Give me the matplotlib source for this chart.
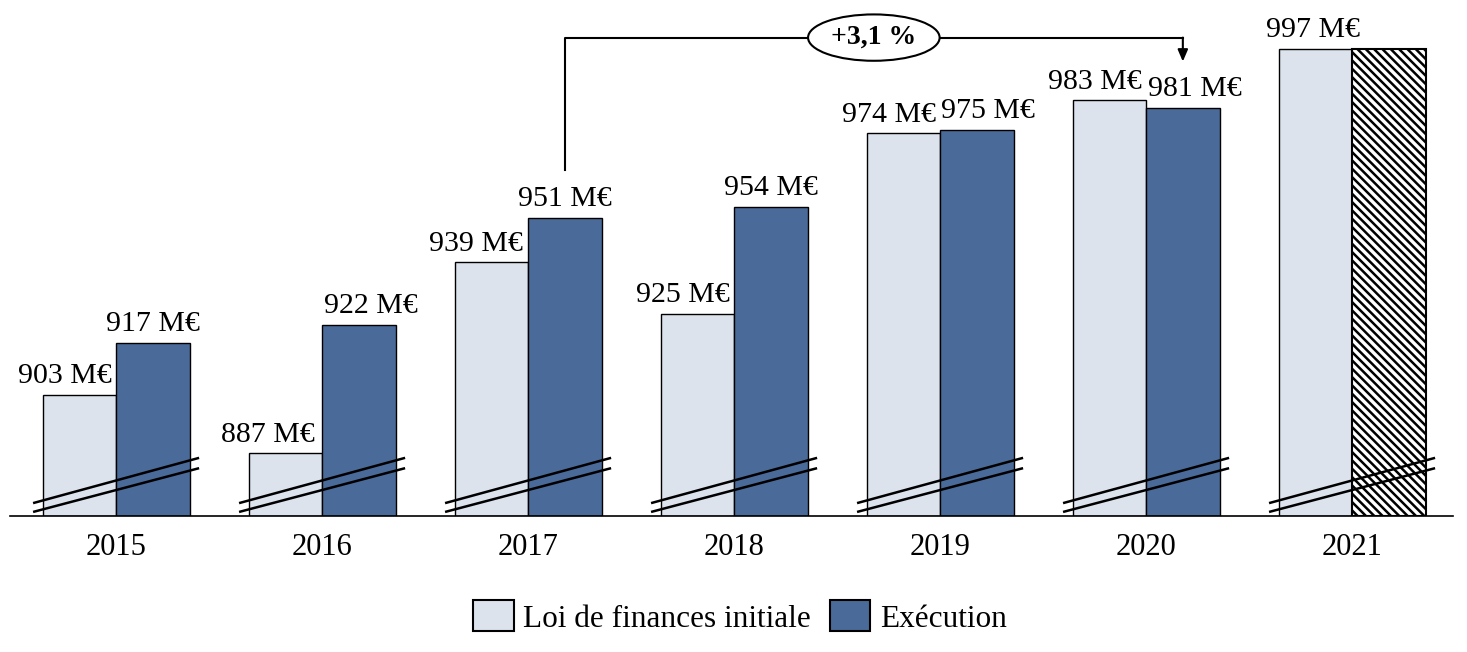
import numpy as np
import matplotlib
matplotlib.use('Agg')
import matplotlib.pyplot as plt

matplotlib.rcParams['font.family'] = ['Liberation Serif', 'DejaVu Serif']
matplotlib.rcParams['hatch.linewidth'] = 1.8

years = ['2015', '2016', '2017', '2018', '2019', '2020', '2021']
lfi = [903, 887, 939, 925, 974, 983, 997]
execution = [917, 922, 951, 954, 975, 981]
growth_label = '+3,1 %'

# label nudges in pixels, to keep neighbouring labels apart
lfi_shift = [-14, -17, -15, -14, -14, -14, -2]
exe_shift = [0, 12, 0, 0, 11, 12]

LIGHT = '#dce3ed'
DARK = '#4a6a99'
W = 0.357
Y0 = 870

fig = plt.figure(figsize=(14.67, 6.52), dpi=100)
ax = fig.add_axes([10 / 1467, 136 / 652, 1443 / 1467, 516 / 652])

x = np.arange(len(years))
b1 = ax.bar(x - W / 2, [v - Y0 for v in lfi], W, bottom=Y0, color=LIGHT,
            edgecolor='black', linewidth=1, label='Loi de finances initiale')
b2 = ax.bar(x[:len(execution)] + W / 2, [v - Y0 for v in execution], W,
            bottom=Y0, color=DARK, edgecolor='black', linewidth=1,
            label='Exécution')
# 2021 execution not known yet: hatched placeholder at the LFI level
ax.bar(x[-1] + W / 2, lfi[-1] - Y0, W, bottom=Y0, color='white',
       edgecolor='black', linewidth=1.5, hatch='\\' * 4)

for i, v in enumerate(lfi):
    ax.annotate(f'{v} M€', (x[i] - W / 2, v), xytext=(lfi_shift[i] * 0.72, 4),
                textcoords='offset points', ha='center', va='bottom', fontsize=21.5)
for i, v in enumerate(execution):
    ax.annotate(f'{v} M€', (x[i] + W / 2, v), xytext=(exe_shift[i] * 0.72, 4),
                textcoords='offset points', ha='center', va='bottom', fontsize=21.5)

# axis break marks
for c in x:
    ax.plot([c - 0.403, c + 0.403], [Y0 + 3.5, Y0 + 15.8], color='black', lw=1.8,
            solid_capstyle='butt', zorder=5)
    ax.plot([c - 0.403, c + 0.403], [Y0 + 1.1, Y0 + 13.0], color='black', lw=1.8,
            solid_capstyle='butt', zorder=5)

# growth bracket 2017 -> 2020
xa = x[2] + W / 2
xb = x[5] + W / 2
ytop = 1000
ax.plot([xa, xa, xb], [execution[2] + 13, ytop, ytop], color='black', lw=1.5)
ax.annotate('', xy=(xb, execution[5] + 12.5), xytext=(xb, ytop),
            arrowprops=dict(arrowstyle='-|>,head_length=0.7,head_width=0.3',
                            color='black', lw=1.5, shrinkA=0, shrinkB=0))
ax.text((xa + xb) / 2, ytop, growth_label, ha='center', va='center',
        fontsize=20, fontweight='bold',
        bbox=dict(boxstyle='ellipse,pad=0.14', fc='white', ec='black', lw=1.5))

ax.set_xlim(-0.515, 6.49)
ax.set_ylim(Y0, Y0 + 516 / 3.68)
ax.set_xticks(x)
ax.set_xticklabels(years, fontsize=22)
ax.tick_params(axis='x', length=0, pad=12)
ax.set_yticks([])
for side in ['left', 'right', 'top']:
    ax.spines[side].set_visible(False)
ax.spines['bottom'].set_linewidth(1.2)

fig.legend(handles=[b1, b2], loc='center', bbox_to_anchor=(740 / 1467, 1 - 617 / 652),
           ncol=2, frameon=False, fontsize=22.5, handlelength=1.3, handleheight=1.15,
           handletextpad=0.3, columnspacing=0.6)
for h in fig.legends[0].legend_handles:
    h.set_linewidth(1.5)

fig.savefig('out.png', dpi=100)
